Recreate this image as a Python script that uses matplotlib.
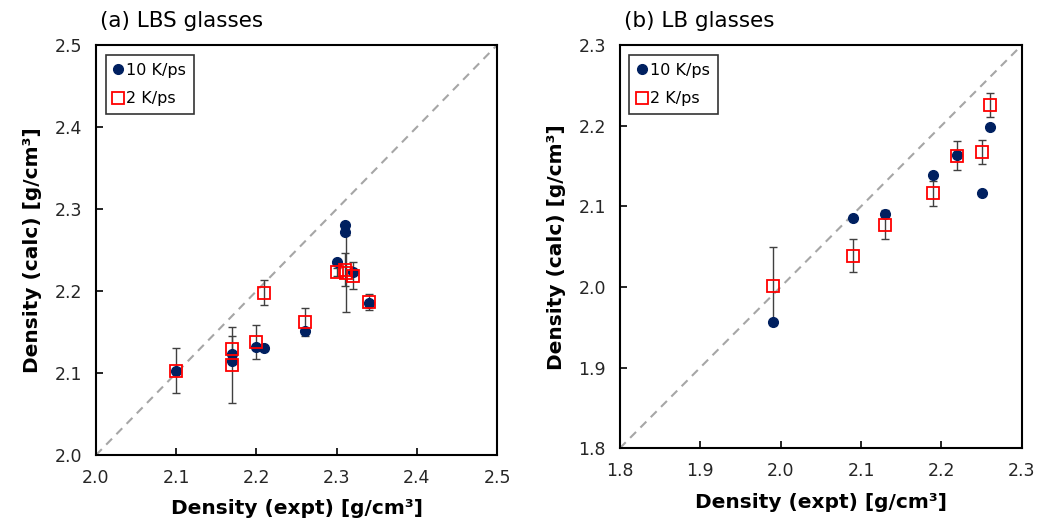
import numpy as np
import matplotlib
matplotlib.use("Agg")
import matplotlib.pyplot as plt

plt.rcParams['font.family'] = ['DejaVu Sans']

# (a) LBS glasses
x10_a = [2.10, 2.17, 2.17, 2.20, 2.21, 2.26, 2.30, 2.31, 2.31, 2.32, 2.34]
y10_a = [2.102, 2.123, 2.115, 2.132, 2.131, 2.151, 2.236, 2.281, 2.272, 2.223, 2.186]
x2_a = [2.10, 2.17, 2.17, 2.20, 2.21, 2.26, 2.30, 2.31, 2.312, 2.32, 2.34]
y2_a = [2.103, 2.129, 2.110, 2.138, 2.198, 2.162, 2.223, 2.226, 2.222, 2.219, 2.187]
e2_a = [0.027, 0.016, 0.046, 0.021, 0.015, 0.017, 0.005, 0.020, 0.047, 0.017, 0.010]

# (b) LB glasses
x_b = [1.99, 2.09, 2.13, 2.19, 2.22, 2.25, 2.26]
y10_b = [1.957, 2.085, 2.091, 2.139, 2.164, 2.117, 2.198]
y2_b = [2.001, 2.039, 2.077, 2.116, 2.163, 2.167, 2.226]
e2_b = [0.048, 0.021, 0.018, 0.015, 0.018, 0.015, 0.015]

navy = '#002060'
red = '#FF0000'


def panel(ax, x10, y10, x2, y2, e2, lo, hi, title):
    ax.plot([lo, hi], [lo, hi], ls=(0, (4, 3)), color='#A6A6A6', lw=1.5, zorder=1)
    ax.plot(x10, y10, 'o', color=navy, ms=7, ls='none', label='10 K/ps', zorder=3)
    ax.errorbar(x2, y2, yerr=e2, fmt='none', ecolor='#404040', elinewidth=1.0,
                capsize=3, capthick=1.0, zorder=2)
    ax.plot(x2, y2, 's', mfc='none', mec=red, mew=1.3, ms=8.5, ls='none',
            label='2 K/ps', zorder=4)
    ax.set_xlim(lo, hi)
    ax.set_ylim(lo, hi)
    ticks = np.round(np.arange(lo, hi + 0.001, 0.1), 1)
    ax.set_xticks(ticks)
    ax.set_yticks(ticks)
    ax.set_xticklabels(['%.1f' % t for t in ticks])
    ax.set_yticklabels(['%.1f' % t for t in ticks])
    ax.tick_params(direction='in', length=5, width=1.2, labelsize=12.5, pad=10,
                   labelcolor='#262626')
    for s in ax.spines.values():
        s.set_linewidth(1.5)
    ax.set_xlabel('Density (expt) [g/cm³]', fontsize=14.5, fontweight='bold', labelpad=9)
    ax.set_ylabel('Density (calc) [g/cm³]', fontsize=14.5, fontweight='bold', labelpad=9)
    ax.text(0.01, 1.035, title, transform=ax.transAxes, fontsize=15.5, ha='left', va='bottom')
    leg = ax.legend(loc='upper left', fontsize=11.5, frameon=True, fancybox=False,
                    edgecolor='black', handlelength=0.6, handletextpad=0.2,
                    borderpad=0.5, labelspacing=0.85, borderaxespad=0.6)
    leg.get_frame().set_linewidth(1.2)


fig = plt.figure(figsize=(10.4, 5.31), dpi=100)
ax1 = fig.add_axes([0.0923, 0.143, 0.3856, 0.772])
ax2 = fig.add_axes([0.596, 0.156, 0.3865, 0.759])

panel(ax1, x10_a, y10_a, x2_a, y2_a, e2_a, 2.0, 2.5, '(a) LBS glasses')
panel(ax2, x_b, y10_b, x_b, y2_b, e2_b, 1.8, 2.3, '(b) LB glasses')

fig.savefig('out.png', dpi=100)
